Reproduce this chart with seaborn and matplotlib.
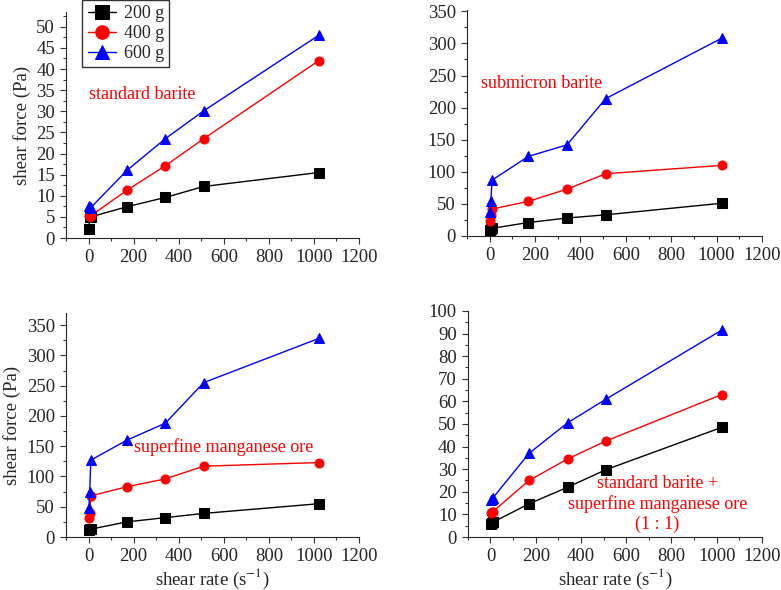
import numpy as np
import pandas as pd
import seaborn as sns
import matplotlib.pyplot as plt
from matplotlib.ticker import MultipleLocator

# shear rates (s^-1), Fann viscometer speeds
shear_rate = [1.7, 5.1, 10.2, 170.3, 340.6, 510.9, 1021.8]
loads = ["200 g", "400 g", "600 g"]

# standard barite
std_200 = [2.2, 5.0, 5.0, 7.4, 9.6, 12.2, 15.5]
std_400 = [5.3, 5.3, 5.3, 11.3, 17.1, 23.5, 42.0]
std_600 = [7.5, 7.4, 7.2, 16.0, 23.5, 30.1, 48.0]

# submicron barite
sub_200 = [10, 11, 12, 21, 28, 33, 51]
sub_400 = [23, 32, 42, 54, 73, 97, 110]
sub_600 = [37, 55, 87, 124, 142, 214, 308]

# superfine manganese ore
mn_200 = [12, 12.5, 13, 25, 32, 39, 55]
mn_400 = [32, 40, 68, 83, 96, 117, 123]
mn_600 = [48, 75, 127, 160, 188, 255, 328]

# standard barite + superfine manganese ore (1:1)
mix_200 = [5.8, 6.0, 6.5, 14.7, 22.0, 29.8, 48.5]
mix_400 = [10.7, 11.0, 11.2, 25.0, 34.5, 42.5, 63.0]
mix_600 = [16.5, 17.0, 17.2, 37.0, 50.5, 61.0, 91.5]


def make_df(s200, s400, s600):
    rows = []
    for lab, vals in zip(loads, [s200, s400, s600]):
        for x, y in zip(shear_rate, vals):
            rows.append({"rate": x, "force": y, "load": lab})
    return pd.DataFrame(rows)


sns.set_style("ticks")
plt.rcParams['font.family'] = ['Liberation Serif', 'DejaVu Serif']
plt.rcParams['mathtext.fontset'] = 'stix'

palette = {"200 g": "black", "400 g": "red", "600 g": "blue"}
markers = {"200 g": "s", "400 g": "o", "600 g": "^"}

fig = plt.figure(figsize=(7.81, 5.90), dpi=100)
positions = [
    [0.0845, 0.5966, 0.3752, 0.3831],
    [0.598, 0.600, 0.3777, 0.383],
    [0.0845, 0.0898, 0.3752, 0.3797],
    [0.599, 0.0898, 0.3767, 0.3832],
]
panels = [
    (std_200, std_400, std_600, 53.5, 5, "standard barite", 0, 34, "left"),
    (sub_200, sub_400, sub_600, 352, 50, "submicron barite", -40, 238, "left"),
    (mn_200, mn_400, mn_600, 370, 50, "superfine manganese ore", 200, 148, "left"),
    (mix_200, mix_400, mix_600, 100, 10,
     "standard barite +\nsuperfine manganese ore\n(1 : 1)", 737, 14.6, "center"),
]

for i, (pos, p) in enumerate(zip(positions, panels)):
    s200, s400, s600, ytop, ystep, label, tx, ty, ha = p
    ax = fig.add_axes(pos)
    df = make_df(s200, s400, s600)
    sns.lineplot(data=df, x="rate", y="force", hue="load", style="load",
                 palette=palette, markers=markers, dashes=False, estimator=None,
                 markersize=6.5, linewidth=1, legend=(i == 0), ax=ax)
    for ln in ax.lines:
        ln.set_markeredgecolor(ln.get_color())
    ax.set_xlim(-100, 1200)
    ax.set_ylim(0, ytop)
    ax.xaxis.set_major_locator(MultipleLocator(200))
    ax.xaxis.set_minor_locator(MultipleLocator(100))
    ax.yaxis.set_major_locator(MultipleLocator(ystep))
    ax.yaxis.set_minor_locator(MultipleLocator(ystep / 2))
    ax.tick_params(which='major', length=4, width=0.8, labelsize=13.5,
                   color='#333333', pad=4)
    ax.tick_params(which='minor', length=2.5, width=0.8, color='#333333')
    for sp in ax.spines.values():
        sp.set_linewidth(0.8)
    sns.despine(ax=ax)
    ax.set_xlabel("shear rate (s$^{-1}$)" if i >= 2 else "", fontsize=13.5,
                  labelpad=1)
    ax.set_ylabel("shear force (Pa)" if i % 2 == 0 else "", fontsize=13.5)
    ax.text(tx, ty, label, color="red", fontsize=13, ha=ha, va="center",
            linespacing=1.25)
    if i == 0:
        leg = ax.legend(loc="upper left", bbox_to_anchor=(0.055, 1.053), fontsize=13,
                        frameon=True, fancybox=False, edgecolor="black",
                        handlelength=1.6, borderpad=0.3, labelspacing=0.15,
                        handletextpad=0.4, markerscale=1.5, borderaxespad=0)
        leg.get_frame().set_linewidth(1.0)
        for h in leg.legend_handles:
            h.set_markeredgecolor(h.get_color())

fig.savefig("out.png", dpi=100)
